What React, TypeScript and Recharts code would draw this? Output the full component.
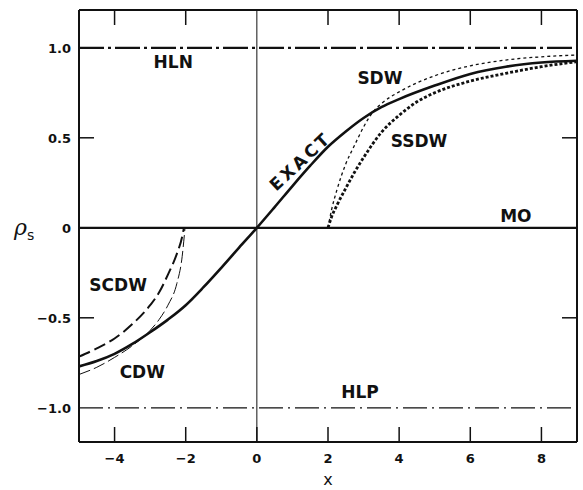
import React from 'react';
import { LineChart, Line, XAxis, YAxis, ReferenceLine, ReferenceDot } from 'recharts';

// ---- data ----
const exactX = [-5, -4.5, -4, -3.5, -3, -2.5, -2, -1.5, -1, -0.5, 0, 0.5, 1, 1.5, 2, 2.5, 3, 3.5, 4, 5, 6, 7, 8, 9];
const exactY = [-0.77, -0.74, -0.7, -0.645, -0.58, -0.51, -0.43, -0.33, -0.222, -0.11, 0, 0.115, 0.232, 0.345, 0.45, 0.535, 0.61, 0.67, 0.715, 0.79, 0.855, 0.895, 0.918, 0.928];

const sdwX = [2, 2.1, 2.25, 2.5, 2.75, 3, 3.25, 3.5, 4, 4.5, 5, 6, 7, 8, 9];
const sdwY = [0, 0.1, 0.21, 0.355, 0.46, 0.56, 0.64, 0.69, 0.755, 0.805, 0.845, 0.9, 0.932, 0.95, 0.96];

const ssdwX = [2, 2.1, 2.25, 2.5, 2.75, 3, 3.5, 4, 4.5, 5, 6, 7, 8, 9];
const ssdwY = [0, 0.06, 0.125, 0.22, 0.31, 0.39, 0.53, 0.625, 0.7, 0.75, 0.815, 0.858, 0.895, 0.923];

const scdwX = [-5, -4.5, -4, -3.5, -3, -2.75, -2.5, -2.25, -2.1, -2.05];
const scdwY = [-0.716, -0.67, -0.615, -0.535, -0.43, -0.36, -0.26, -0.145, -0.05, 0];

const cdwX = [-5, -4.5, -4, -3.5, -3, -2.75, -2.5, -2.25, -2.1, -2.02];
const cdwY = [-0.815, -0.775, -0.72, -0.655, -0.57, -0.51, -0.43, -0.31, -0.16, 0];

const xTicks = [-4, -2, 0, 2, 4, 6, 8];
const yTicks = [-1, -0.5, 0, 0.5, 1];
const yTickLabels = ['\u22121.0', '\u22120.5', '0', '0.5', '1.0'];
const xTickLabels = ['\u22124', '\u22122', '0', '2', '4', '6', '8'];

const labelText = ['HLN', 'SDW', 'SSDW', 'MO', 'SCDW', 'CDW', 'HLP'];
const labelX = [-2.35, 3.46, 4.56, 7.28, -3.9, -3.22, 2.9];
const labelY = [0.92, 0.83, 0.48, 0.065, -0.32, -0.8, -0.91];

const exactLabel = { text: 'EXACT', x: 1.22, y: 0.37, angle: -43 };

const zip = (xs: number[], ys: number[]) => xs.map((x, i) => ({ x, y: ys[i] }));
const exactData = zip(exactX, exactY);
const sdwData = zip(sdwX, sdwY);
const ssdwData = zip(ssdwX, ssdwY);
const scdwData = zip(scdwX, scdwY);
const cdwData = zip(cdwX, cdwY);

const INK = '#111';
const FONT = '"DejaVu Sans", "Liberation Sans", Arial, sans-serif';

const BottomTick = (p: any) => {
  const i = xTicks.indexOf(p.payload.value);
  return (
    <g>
      <line x1={p.x} y1={p.y} x2={p.x} y2={p.y - 15} stroke={INK} strokeWidth={1.5} />
      <text x={p.x} y={p.y + 21} textAnchor="middle" fontFamily={FONT} fontWeight="bold" fontSize={13} fill={INK}>
        {xTickLabels[i]}
      </text>
    </g>
  );
};

const TopTick = (p: any) => (
  <line x1={p.x} y1={p.y} x2={p.x} y2={p.y + 15} stroke={INK} strokeWidth={1.5} />
);

const LeftTick = (p: any) => {
  const v = p.payload.value;
  const i = yTicks.indexOf(v);
  return (
    <g>
      {Math.abs(v) === 0.5 && <line x1={p.x} y1={p.y} x2={p.x + 15} y2={p.y} stroke={INK} strokeWidth={1.5} />}
      <text x={p.x - 8} y={p.y} dy={5} textAnchor="end" fontFamily={FONT} fontWeight="bold" fontSize={13} fill={INK}>
        {yTickLabels[i]}
      </text>
    </g>
  );
};

const RightTick = (p: any) => {
  const v = p.payload.value;
  return Math.abs(v) === 0.5 ? (
    <line x1={p.x} y1={p.y} x2={p.x - 15} y2={p.y} stroke={INK} strokeWidth={1.5} />
  ) : (
    <g />
  );
};

const makeLabel = (text: string, angle = 0, spacing = 0) => (p: any) => (
  <text
    x={p.cx}
    y={p.cy}
    textAnchor="middle"
    dominantBaseline="central"
    fontFamily={FONT}
    fontWeight="bold"
    fontSize={17}
    letterSpacing={spacing}
    fill={INK}
    transform={angle ? `rotate(${angle} ${p.cx} ${p.cy})` : undefined}
  >
    {text}
  </text>
);

export default function App() {
  return (
    <div style={{ position: 'absolute', left: 0, top: 0, background: '#fff' }}>
      <LineChart width={583} height={490} margin={{ top: 9, right: 5, bottom: 47, left: 78 }}>
        <XAxis
          xAxisId="b"
          dataKey="x"
          type="number"
          domain={[-5, 9]}
          ticks={xTicks}
          interval={0}
          allowDataOverflow
          height={1}
          tickSize={0}
          tickMargin={0}
          tickLine={false}
          axisLine={{ stroke: INK, strokeWidth: 2 }}
          tick={BottomTick}
          label={{
            content: (lp: any) => {
              const vb = lp.viewBox;
              return (
                <text x={vb.x + vb.width / 2} y={vb.y + 43} textAnchor="middle" fontFamily={FONT} fontSize={16} fill={INK}>
                  x
                </text>
              );
            },
          }}
        />
        <XAxis
          xAxisId="t"
          orientation="top"
          dataKey="x"
          type="number"
          domain={[-5, 9]}
          ticks={[-4, -2, 2, 4, 6, 8]}
          interval={0}
          allowDataOverflow
          height={1}
          tickSize={0}
          tickMargin={0}
          tickLine={false}
          axisLine={{ stroke: INK, strokeWidth: 2 }}
          tick={TopTick}
        />
        <YAxis
          yAxisId="l"
          type="number"
          domain={[-1.19, 1.21]}
          ticks={yTicks}
          interval={0}
          allowDataOverflow
          width={1}
          tickSize={0}
          tickMargin={0}
          tickLine={false}
          axisLine={{ stroke: INK, strokeWidth: 2 }}
          tick={LeftTick}
          label={{
            content: (lp: any) => {
              const vb = lp.viewBox;
              return (
                <text x={vb.x - 64} y={vb.y + vb.height / 2 + 9} fontFamily='"DejaVu Serif", serif' fontStyle="italic" fontSize={22} fill={INK}>
                  ρ
                  <tspan fontFamily={FONT} fontStyle="normal" fontSize={14} dy={5}>
                    s
                  </tspan>
                </text>
              );
            },
          }}
        />
        <YAxis
          yAxisId="r"
          orientation="right"
          type="number"
          domain={[-1.19, 1.21]}
          ticks={[-0.5, 0.5]}
          interval={0}
          allowDataOverflow
          width={1}
          tickSize={0}
          tickMargin={0}
          tickLine={false}
          axisLine={{ stroke: INK, strokeWidth: 2 }}
          tick={RightTick}
        />

        <ReferenceLine xAxisId="b" yAxisId="l" x={0} stroke={INK} strokeWidth={1} />
        <ReferenceLine xAxisId="b" yAxisId="l" y={0} stroke={INK} strokeWidth={2.2} />
        <ReferenceLine xAxisId="b" yAxisId="l" y={1} stroke={INK} strokeWidth={2.2} strokeDasharray="25 4 3 4" />
        <ReferenceLine xAxisId="b" yAxisId="l" y={-1} stroke={INK} strokeWidth={1.3} strokeDasharray="24 5 2 5" />

        <Line xAxisId="b" yAxisId="l" data={exactData} dataKey="y" type="monotone" stroke={INK} strokeWidth={2.6} dot={false} isAnimationActive={false} />
        <Line xAxisId="b" yAxisId="l" data={sdwData} dataKey="y" type="monotone" stroke={INK} strokeWidth={1.3} strokeDasharray="3 3" dot={false} isAnimationActive={false} />
        <Line xAxisId="b" yAxisId="l" data={ssdwData} dataKey="y" type="monotone" stroke={INK} strokeWidth={2.8} strokeDasharray="3 2" dot={false} isAnimationActive={false} />
        <Line xAxisId="b" yAxisId="l" data={scdwData} dataKey="y" type="monotone" stroke={INK} strokeWidth={2} strokeDasharray="12 5" dot={false} isAnimationActive={false} />
        <Line xAxisId="b" yAxisId="l" data={cdwData} dataKey="y" type="monotone" stroke={INK} strokeWidth={1} strokeDasharray="12 4" dot={false} isAnimationActive={false} />

        {labelText.map((t, i) => (
          <ReferenceDot key={t} xAxisId="b" yAxisId="l" x={labelX[i]} y={labelY[i]} r={0} shape={makeLabel(t)} />
        ))}
        <ReferenceDot
          xAxisId="b"
          yAxisId="l"
          x={exactLabel.x}
          y={exactLabel.y}
          r={0}
          shape={makeLabel(exactLabel.text, exactLabel.angle, 3)}
        />
      </LineChart>
    </div>
  );
}
